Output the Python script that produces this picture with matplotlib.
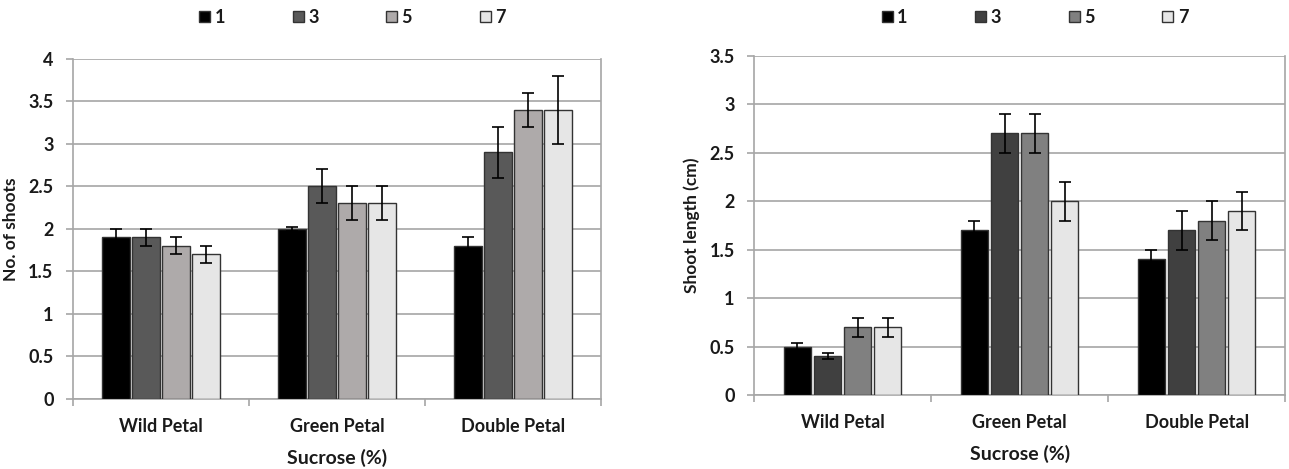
import numpy as np
import matplotlib.pyplot as plt
from matplotlib.patches import Patch

plt.rcParams['font.family'] = ['Lato', 'DejaVu Sans']
plt.rcParams['font.weight'] = 'bold'
plt.rcParams['axes.labelweight'] = 'bold'

categories = ['Wild Petal', 'Green Petal', 'Double Petal']
levels = ['1', '3', '5', '7']

shoots = {
    '1': [1.9, 2.0, 1.8],
    '3': [1.9, 2.5, 2.9],
    '5': [1.8, 2.3, 3.4],
    '7': [1.7, 2.3, 3.4],
}
shoots_err = {
    '1': [0.1, 0.02, 0.1],
    '3': [0.1, 0.2, 0.3],
    '5': [0.1, 0.2, 0.2],
    '7': [0.1, 0.2, 0.4],
}

length = {
    '1': [0.5, 1.7, 1.4],
    '3': [0.4, 2.7, 1.7],
    '5': [0.7, 2.7, 1.8],
    '7': [0.7, 2.0, 1.9],
}
length_err = {
    '1': [0.04, 0.1, 0.1],
    '3': [0.03, 0.2, 0.2],
    '5': [0.1, 0.2, 0.2],
    '7': [0.1, 0.2, 0.2],
}

left_colors = ['#000000', '#595959', '#aeaaaa', '#e6e6e6']
right_colors = ['#000000', '#404040', '#808080', '#e6e6e6']

txt = '#1a1a1a'
grid = '#a6a6a6'


def draw(ax, vals, errs, colors, ymax, ylabel, width):
    x = np.arange(len(categories))
    step = 0.17
    for i, lev in enumerate(levels):
        pos = x + (i - 1.5) * step
        ax.bar(pos, vals[lev], width=width, color=colors[i], edgecolor='#333333',
               linewidth=1.0, zorder=3)
        ax.errorbar(pos, vals[lev], yerr=errs[lev], fmt='none', ecolor='black',
                    elinewidth=1.2, capsize=4, capthick=1.2, zorder=4)

    ax.set_xlim(-0.5, 2.5)
    ax.set_ylim(0, ymax)
    ax.set_yticks(np.arange(0, ymax + 0.01, 0.5))
    ax.set_yticklabels([f'{v:g}' for v in np.arange(0, ymax + 0.01, 0.5)])
    ax.yaxis.grid(True, color=grid, linewidth=1.2, zorder=0)
    ax.set_axisbelow(True)

    ax.set_xticks(x)
    ax.set_xticklabels(categories)
    ax.set_xticks([-0.5, 0.5, 1.5, 2.5], minor=True)
    ax.tick_params(axis='x', which='major', length=0, pad=14, labelsize=13, labelcolor=txt)
    ax.tick_params(axis='x', which='minor', length=5, color=grid, width=1.2)
    ax.tick_params(axis='y', length=5, color=grid, width=1.2, pad=9, labelsize=13,
                   labelcolor=txt)

    for s in ['left', 'bottom', 'right']:
        ax.spines[s].set_color(grid)
        ax.spines[s].set_linewidth(1.2)
    ax.spines['top'].set_visible(False)

    ax.set_xlabel('Sucrose (%)', fontsize=14, color=txt, labelpad=10)
    ax.set_ylabel(ylabel, fontsize=12.5, color=txt, labelpad=7)

    handles = [Patch(facecolor=colors[i], edgecolor='#333333', linewidth=1.0)
               for i in range(len(levels))]
    pos = ax.get_position()
    ax.legend(handles, levels, loc='center', ncol=4, frameon=False,
              bbox_to_anchor=(pos.x0 + pos.width / 2 + 0.012, 0.963),
              bbox_transform=ax.figure.transFigure,
              handlelength=0.6, handleheight=0.6, handletextpad=0.25,
              columnspacing=3.75, fontsize=13, labelcolor=txt)


fig = plt.figure(figsize=(12.89, 4.69), dpi=100)
ax1 = fig.add_axes((0.0566, 0.1493, 0.4096, 0.725))
ax2 = fig.add_axes((0.585, 0.1578, 0.412, 0.7228))

draw(ax1, shoots, shoots_err, left_colors, 4.0, 'No. of shoots', 0.16)
draw(ax2, length, length_err, right_colors, 3.5, 'Shoot length (cm)', 0.155)

fig.savefig('out.png', dpi=100)
